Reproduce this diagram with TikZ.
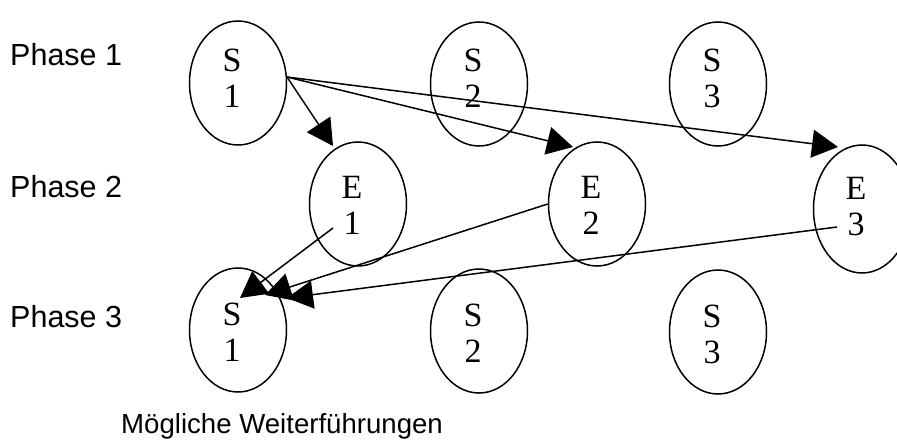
\documentclass[tikz,border=0pt]{standalone}
\usepackage{fontspec}
\setmainfont{Liberation Serif}
\newfontfamily\phasefont{Liberation Sans}
\usetikzlibrary{shapes.geometric,arrows.meta,calc}

\begin{document}
\begin{tikzpicture}[x=1pt,y=-1pt,
  bubble/.style={draw, ellipse, line width=1.5pt, minimum width=97pt,
    minimum height=124pt, inner sep=0pt},
  bubbletext/.style={align=center, inner sep=0pt,
    font=\fontsize{34}{36}\selectfont},
  phase/.style={anchor=base west, inner sep=0pt,
    font=\phasefont\fontsize{30.5}{36}\selectfont},
  flow/.style={line width=1.5pt, -{Triangle[length=26pt,width=28pt]}}]

\useasboundingbox (0,0) rectangle (897,441);

% phase labels
\node[phase] (p1) at (10,66) {Phase 1};
\node[phase] (p2) at (10,197) {Phase 2};
\node[phase] (p3) at (10,327) {Phase 3};
\node[phase, font=\phasefont\fontsize{27.6}{33}\selectfont] (cap) at (121,433)
  {Mögliche Weiterführungen};

% phase 1 states
\node[bubble] (S1a) at (238,83) {};
\node[bubble] (S2a) at (479,84) {};
\node[bubble] (S3a) at (718,84) {};
\node[bubbletext] (tS1a) at (232,78) {S\\1};
\node[bubbletext] (tS2a) at (473,78) {S\\2};
\node[bubbletext] (tS3a) at (712,78) {S\\3};

% phase 2 events
\node[bubble] (E1) at (358,204) {};
\node[bubble] (E2) at (597,204) {};
\node[bubble, minimum height=128pt] (E3) at (862,209) {};
\node[bubbletext] (tE1) at (352,205) {E\\1};
\node[bubbletext] (tE2) at (591,205) {E\\2};
\node[bubbletext] (tE3) at (856,207) {E\\3};

% phase 3 states
\node[bubble] (S1b) at (238,330) {};
\node[bubble] (S2b) at (479,331) {};
\node[bubble] (S3b) at (718,332) {};
\node[bubbletext] (tS1b) at (232,332) {S\\1};
\node[bubbletext] (tS2b) at (473,333) {S\\2};
\node[bubbletext] (tS3b) at (712,334) {S\\3};

% common start point on the right side of state 1
\coordinate (s1out) at ($(S1a.center)+(49,-6)$);

% transitions from phase 1 to phase 2
\draw[flow] (s1out) -- ($(E1.center)+(-25,-58)$);
\draw[flow] (s1out) -- ($(E2.center)+(-24,-57)$);
\draw[flow] (s1out) -- ($(E3.center)+(-24,-62)$);

% continuations back to state 1
\draw[flow] ($(E1.center)+(-25,24)$) -- ($(S1b.center)+(2,-32)$);
\draw[flow] (E2.west) -- ($(S1b.center)+(27,-35)$);
\draw[flow] ($(E3.center)+(-25,18)$) -- ($(S1b.center)+(49,-32)$);

\end{tikzpicture}
\end{document}
